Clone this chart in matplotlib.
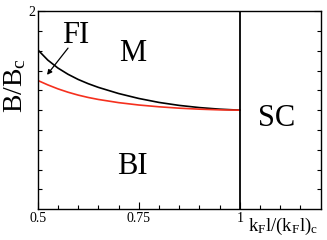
import matplotlib
matplotlib.use('Agg')
import matplotlib.pyplot as plt
import numpy as np

plt.rcParams['font.family'] = ['Liberation Serif', 'DejaVu Serif']
plt.rcParams['mathtext.fontset'] = 'custom'
plt.rcParams['mathtext.rm'] = 'Liberation Serif'
plt.rcParams['mathtext.it'] = 'Liberation Serif:italic'

# phase boundaries
kf = [0.5, 0.525, 0.55, 0.575, 0.6, 0.625, 0.65, 0.7, 0.75, 0.8, 0.85, 0.9, 0.95, 1.0]
b_upper = [1.61, 1.505, 1.425, 1.362, 1.31, 1.267, 1.23, 1.168, 1.118, 1.078, 1.048, 1.026, 1.01, 1.0]  # black
b_lower = [1.30, 1.255, 1.215, 1.181, 1.152, 1.128, 1.108, 1.076, 1.052, 1.034, 1.02, 1.01, 1.003, 1.0]  # red
sc_edge = 1.0

regions = ['FI', 'M', 'BI', 'SC']
region_xy = [(0.595, 1.75), (0.736, 1.57), (0.734, 0.43), (1.091, 0.92)]

fig = plt.figure(figsize=(3.27, 2.4), dpi=100)
ax = fig.add_axes([0.1153, 0.128, 0.8654, 0.826])

ax.plot(kf, b_upper, color='black', lw=1.2)
ax.plot(kf, b_lower, color='#f5301e', lw=1.2)
ax.axvline(sc_edge, color='black', lw=1.3)

for name, (x, y) in zip(regions, region_xy):
    ax.text(x, y, name, fontsize=22, ha='center', va='center')

ax.annotate('', xy=(0.523, 1.356), xytext=(0.575, 1.626),
            arrowprops=dict(arrowstyle='-|>', color='black', lw=0.9,
                            mutation_scale=7, shrinkA=0, shrinkB=0))

ax.set_xlim(0.5, 1.2)
ax.set_ylim(0, 2)
ax.set_xticks([0.5, 0.75, 1.0])
ax.set_xticklabels(['0.5', '0.75', '1'])
ax.set_xticks(np.arange(0.55, 1.2, 0.05), minor=True)
ax.set_yticks([2])
ax.set_yticklabels(['2'])
ax.set_yticks(np.arange(0.2, 1.9, 0.2), minor=True)
ax.tick_params(which='both', direction='in', right=True, labelsize=10, pad=2)
ax.tick_params(which='major', length=5, width=0.8)
ax.tick_params(which='minor', length=3, width=0.8)
for s in ax.spines.values():
    s.set_linewidth(1.0)

fig.text(15 / 327, 1 - 85 / 240, r'B/B$_{\mathrm{c}}$', fontsize=20,
         rotation=90, ha='center', va='center')
fig.text(248 / 327, 1 - 226 / 240, r'k$_{\mathrm{F}}$l/(k$_{\mathrm{F}}$l)$_{\mathrm{c}}$',
         fontsize=13.5, ha='left', va='center')

fig.savefig('out.png', dpi=100)
